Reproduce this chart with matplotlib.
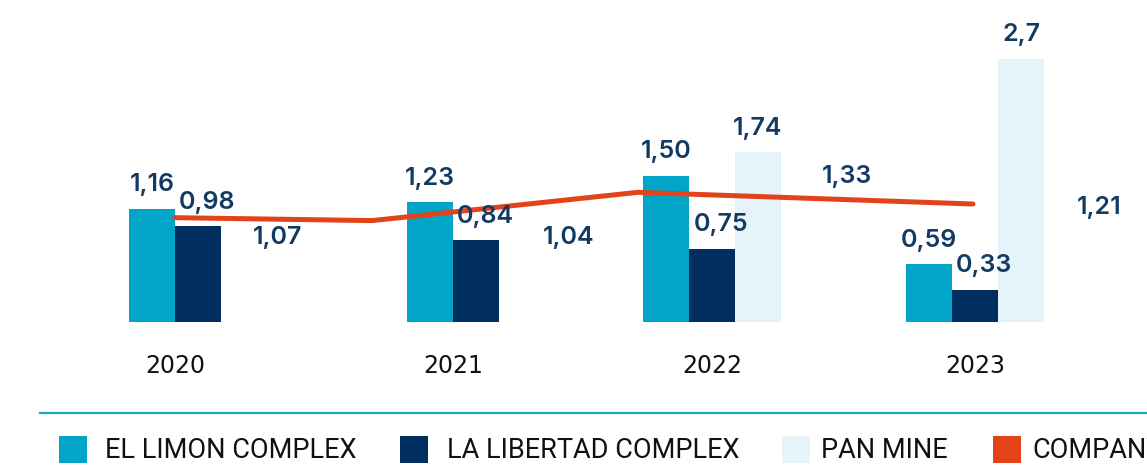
import matplotlib
matplotlib.use('Agg')
import matplotlib.pyplot as plt
from matplotlib.patches import Rectangle

# cost per year, three operations plus the company-wide figure
years = ['2020', '2021', '2022', '2023']
el_limon = [1.16, 1.23, 1.50, 0.59]
la_libertad = [0.98, 0.84, 0.75, 0.33]
pan_mine = [None, None, 1.74, 2.7]
pan_decimals = [2, 2, 2, 1]
company = [1.07, 1.04, 1.33, 1.21]

series_names = ['EL LIMON COMPLEX', 'LA LIBERTAD COMPLEX', 'PAN MINE', 'COMPANY']
colors = ['#00a5c8', '#002f5f', '#e5f4f8', '#e2431a']
label_color = '#123a63'

W, H = 1147, 469
base_px = 322          # baseline of the bars, pixels from top
px_per_unit = 97.5

group_left = [129, 407, 643, 906]
bar_w = 46
line_x = [175, 372, 638, 973]
line_lbl_off = [(102, -20), (197, -17), (209, 16), (126, -3)]


def fmt(v, d=2):
    return f'{v:.{d}f}'.replace('.', ',')


fig = plt.figure(figsize=(W / 100, H / 100), dpi=100)
ax = fig.add_axes([0, (H - base_px) / H, 1, base_px / H])
ax.set_xlim(0, W)
ax.set_ylim(0, base_px / px_per_unit)
ax.axis('off')

val_font = dict(family=['Inter', 'DejaVu Sans'], weight='semibold', size=18, color=label_color)

for g in range(len(years)):
    values = [el_limon[g], la_libertad[g], pan_mine[g]]
    present = [v for v in values if v is not None]
    for i, v in enumerate(values):
        if v is None:
            continue
        xc = group_left[g] + bar_w * (i + 0.5)
        ax.bar(xc, v, width=bar_w, color=colors[i], linewidth=0, zorder=2)
        d = pan_decimals[g] if i == 2 else 2
        dx = 9 if i == 1 else 0
        ax.annotate(fmt(v, d), (xc, v), xytext=(dx, 24), textcoords='offset pixels',
                    ha='center', va='center', zorder=5, **val_font)
    # year label under the bars that exist
    xmid = group_left[g] + bar_w * len(present) / 2
    ax.text(xmid, -44 / px_per_unit, years[g], ha='center', va='center',
            fontsize=17, family='DejaVu Sans', color='#111111', clip_on=False)

ax.plot(line_x, company, color=colors[3], lw=3.6, solid_capstyle='round',
        solid_joinstyle='round', zorder=4)
for x, v, (dx, dy) in zip(line_x, company, line_lbl_off):
    ax.annotate(fmt(v), (x, v), xytext=(dx, dy), textcoords='offset pixels',
                ha='center', va='center', zorder=5, **val_font)

# legend strip in pixel coordinates
lax = fig.add_axes([0, 0, 1, 1], zorder=-1)
lax.set_xlim(0, W)
lax.set_ylim(H, 0)
lax.axis('off')
lax.plot([40, W], [413, 413], color='#1ba7c9', lw=1.6)

sq_x = [59, 400, 782, 993]
txt_x = [105, 447, 821, 1032]
for name, c, sx, tx in zip(series_names, colors, sq_x, txt_x):
    lax.add_patch(Rectangle((sx, 436), 28, 27, color=c, linewidth=0))
    lax.text(tx, 451, name, ha='left', va='center', fontsize=19.5,
             family=['Roboto', 'DejaVu Sans'], color='#111111')

fig.savefig('out.png', dpi=100)
